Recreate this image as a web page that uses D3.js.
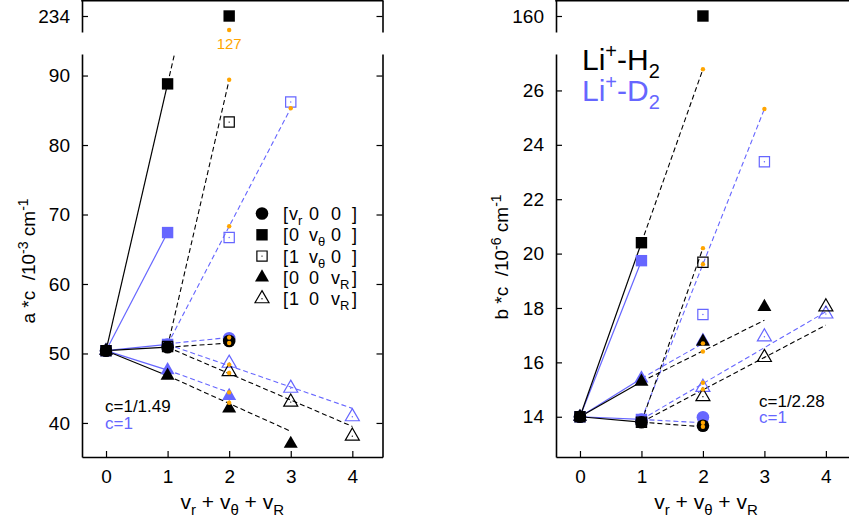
<!DOCTYPE html>
<html>
<head>
<meta charset="utf-8">
<script src="https://cdn.jsdelivr.net/npm/d3@7/dist/d3.min.js"></script>
<style>
  body { margin: 0; background: #fff; }
  svg { display: block; font-family: "Liberation Sans", Arial, sans-serif; }
</style>
</head>
<body>
<svg id="chart" width="849" height="524"></svg>
<script>
// ---- data -------------------------------------------------------------
const quanta = [0, 1, 2, 3, 4];
const aTicks = [40, 50, 60, 70, 80, 90];
const aTopTicks = [234];
const bTicks = [14, 16, 18, 20, 22, 24, 26];
const bTopTicks = [160];

// first quantum number of each progression
const seriesStart = { vr: 0, vt: 0, onevt: 1, vR: 0, onevR: 2 };

// a*c (10^-3 cm^-1) — Li+-H2 (c = 1/1.49)
const aH2_vr    = [50.4, 50.9, 51.8];
const aH2_vt    = [50.4, 88.8, 234];
const aH2_onevt = [51.0, 83.3];
const aH2_vR    = [50.4, 46.8, 42.1, 37.0];
const aH2_onevR = [47.4, 43.0, 38.1];
// a*c — Li+-D2 (c = 1)
const aD2_vr    = [50.4, 51.3, 52.2];
const aD2_vt    = [50.4, 67.4];
const aD2_onevt = [51.3, 66.7, 86.2];
const aD2_vR    = [50.4, 47.6, 43.9];
const aD2_onevR = [48.6, 45.0, 40.9];
// linear predictions: [n0, v0, n1, v1] and predicted points [n, v]
const aH2_extrap = [[1, 88.8, 2, 127], [1, 51.0, 2, 89.4], [1, 50.9, 2, 51.5], [1, 46.8, 3, 38.8], [1, 50.9, 4, 39.5]];
const aH2_pred   = [[2, 127], [2, 89.4], [2, 51.5], [2, 42.9], [2, 47.2]];
const aD2_extrap = [[1, 51.3, 3, 85.3], [1, 51.4, 2, 52.3], [1, 47.6, 2, 44.4], [1, 51.3, 4, 42.1]];
const aD2_pred   = [[2, 68.3], [3, 85.3], [2, 52.3], [2, 44.4], [2, 48.4]];

// b*c (10^-6 cm^-1) — Li+-H2 (c = 1/2.28)
const bH2_vr    = [14.0, 13.8, 13.67];
const bH2_vt    = [14.0, 20.4, 160];
const bH2_onevt = [13.8, 19.68];
const bH2_vR    = [14.0, 15.29, 16.76, 18.04];
const bH2_onevR = [14.74, 16.18, 18.04];
// b*c — Li+-D2 (c = 1)
const bD2_vr    = [14.0, 13.9, 13.98];
const bD2_vt    = [14.0, 19.74];
const bD2_onevt = [13.9, 17.76, 23.38];
const bD2_vR    = [14.0, 15.41, 16.8];
const bD2_onevR = [15.08, 16.94, 17.78];
const bH2_extrap = [[1, 20.4, 2, 26.78], [1, 13.8, 2, 20.2], [1, 13.8, 2, 13.63], [1, 15.29, 3, 17.55], [1, 13.8, 4, 17.37]];
const bH2_pred   = [[2, 26.78], [2, 20.2], [2, 13.63], [2, 16.4], [2, 15.0]];
const bD2_extrap = [[1, 13.9, 3, 25.32], [1, 13.9, 2, 13.78], [1, 15.41, 2, 16.7], [1, 13.9, 4, 17.86]];
const bD2_pred   = [[2, 19.61], [3, 25.32], [2, 13.78], [2, 16.7], [2, 15.25]];

// ---- layout ------------------------------------------------------------
const BLACK = "#000", BLUE = "#6666ff", ORANGE = "#ffa500";
const MAIN_TOP = 54, MAIN_BOT = 457, TOP_TOP = 0, TOP_BOT = 32;
const xDomain = [-0.39, 4.49];
const FONT = 19;
const NB = "\u00a0";
const svg = d3.select("#chart");

const symbolFor = {
  vr: d3.symbolCircle, vt: d3.symbolSquare, onevt: d3.symbolSquare,
  vR: d3.symbolTriangle, onevR: d3.symbolTriangle
};
const sizeFor = { vr: 125, vt: 130, onevt: 105, vR: 85, onevR: 85 };
const openFor = { vr: false, vt: false, onevt: true, vR: false, onevR: true };

function drawMarker(g, key, cx, cy, color) {
  const p = d3.symbol().type(symbolFor[key]).size(sizeFor[key])();
  const m = g.append("path").attr("d", p)
    .attr("transform", `translate(${cx},${cy})`);
  if (openFor[key]) {
    m.attr("fill", "none").attr("stroke", color).attr("stroke-width", 1.2);
    g.append("circle").attr("cx", cx).attr("cy", cy).attr("r", 0.7).attr("fill", color);
  } else {
    m.attr("fill", color);
  }
}

function styleAxis(sel) {
  sel.attr("font-size", FONT).attr("font-family", null);
  sel.selectAll("path.domain").attr("stroke-width", 1.6);
  sel.selectAll(".tick line").attr("stroke-width", 1.2);
  sel.selectAll(".tick text").attr("fill", BLACK);
}

function drawPanel(p) {
  const x = d3.scaleLinear().domain(xDomain).range([p.left, p.right]);
  const y = d3.scaleLinear().domain(p.mainDomain).range([MAIN_BOT, MAIN_TOP]);
  const yt = d3.scaleLinear().domain(p.topDomain).range([TOP_BOT, TOP_TOP]);
  const place = v => v > p.mainDomain[1] ? yt(v) : y(v);

  const g = svg.append("g");
  svg.append("clipPath").attr("id", p.id + "-clip")
    .append("rect").attr("x", p.left).attr("y", MAIN_TOP)
    .attr("width", p.right - p.left).attr("height", MAIN_BOT - MAIN_TOP);

  // axes — main part
  g.append("g").attr("transform", `translate(${p.left},0)`)
    .call(d3.axisLeft(y).tickValues(p.ticks).tickSize(-6).tickSizeOuter(0).tickPadding(12))
    .call(styleAxis);
  g.append("g").attr("transform", `translate(${p.right},0)`)
    .call(d3.axisRight(y).tickValues(p.ticks).tickSize(-6).tickSizeOuter(0).tickFormat(""))
    .call(styleAxis);
  g.append("g").attr("transform", `translate(0,${MAIN_BOT})`)
    .call(d3.axisBottom(x).tickValues(quanta).tickFormat(d3.format("d"))
      .tickSize(-6).tickSizeOuter(0).tickPadding(13))
    .call(styleAxis);
  // axes — upper (broken) part
  g.append("g").attr("transform", `translate(${p.left},0)`)
    .call(d3.axisLeft(yt).tickValues(p.topTicks).tickSize(-6).tickSizeOuter(0).tickPadding(12))
    .call(styleAxis);
  g.append("g").attr("transform", `translate(${p.right},0)`)
    .call(d3.axisRight(yt).tickValues(p.topTicks).tickSize(-6).tickSizeOuter(0).tickFormat(""))
    .call(styleAxis);
  g.append("line").attr("x1", p.left - 0.8).attr("x2", p.right + 0.8)
    .attr("y1", 0.8).attr("y2", 0.8).attr("stroke", BLACK).attr("stroke-width", 1.6);

  const plot = g.append("g").attr("clip-path", `url(#${p.id}-clip)`);
  const groups = [p.D2, p.H2];  // blue drawn underneath black

  // solid segments from the ground state to the first level
  groups.forEach(s => {
    ["vr", "vt", "vR"].forEach(k => {
      const v = s.series[k];
      plot.append("line")
        .attr("x1", x(0)).attr("y1", y(v[0])).attr("x2", x(1)).attr("y2", y(v[1]))
        .attr("stroke", s.color).attr("stroke-width", 1.2);
    });
  });
  // dashed linear predictions
  groups.forEach(s => {
    s.extrap.forEach(([n0, v0, n1, v1]) => {
      plot.append("line")
        .attr("x1", x(n0)).attr("y1", y(v0)).attr("x2", x(n1)).attr("y2", y(v1))
        .attr("stroke", s.color).attr("stroke-width", 1.1).attr("stroke-dasharray", "5,3");
    });
  });
  // measured levels
  const marks = g.append("g");
  groups.forEach(s => {
    ["vr", "vR", "onevR", "onevt", "vt"].forEach(k => {
      s.series[k].forEach((v, i) => {
        drawMarker(marks, k, x(seriesStart[k] + i), place(v), s.color);
      });
    });
  });
  // predicted points
  groups.forEach(s => {
    s.pred.forEach(([n, v]) => {
      marks.append("circle").attr("cx", x(n)).attr("cy", place(v)).attr("r", 2.2).attr("fill", ORANGE);
      if (v > p.mainDomain[1]) {
        marks.append("text").attr("x", x(n)).attr("y", place(v) + 19)
          .attr("text-anchor", "middle").attr("font-size", 15).attr("fill", ORANGE)
          .text(d3.format("d")(v));
      }
    });
  });

  // x-axis title: vr + vθ + vR
  const xt = g.append("text").attr("x", (p.left + p.right) / 2).attr("y", 509)
    .attr("text-anchor", "middle").attr("font-size", 21);
  [["v", "r"], [NB + "+" + NB + "v", "θ"], [NB + "+" + NB + "v", "R"]].forEach(([b, s], i) => {
    xt.append("tspan").attr("dy", i === 0 ? 0 : -6).text(b);
    xt.append("tspan").attr("font-size", 15).attr("dy", 6).text(s);
  });

  // y-axis title
  const yl = g.append("text").attr("transform", `translate(${p.ylabelX},${p.ylabelY}) rotate(-90)`)
    .attr("text-anchor", "middle").attr("font-size", 19);
  yl.append("tspan").text(p.ylabelVar + NB + "*c" + NB + NB + "/10");
  yl.append("tspan").attr("font-size", 14).attr("dy", -7).text(p.ylabelExp);
  yl.append("tspan").attr("dy", 7).text(NB + "cm");
  yl.append("tspan").attr("font-size", 14).attr("dy", -7).text("-1");

  // scale-factor notes
  p.notes.forEach(nt => {
    g.append("text").attr("x", nt.x).attr("y", nt.y).attr("font-size", 17)
      .attr("fill", nt.color).text(nt.text);
  });
  return g;
}

drawPanel({
  id: "pa", left: 82, right: 382.5,
  mainDomain: [35.1, 93.1], topDomain: [112, 356],
  ticks: aTicks, topTicks: aTopTicks,
  ylabelVar: "a", ylabelExp: "-3", ylabelX: 35, ylabelY: 261,
  H2: { color: BLACK, series: { vr: aH2_vr, vt: aH2_vt, onevt: aH2_onevt, vR: aH2_vR, onevR: aH2_onevR }, extrap: aH2_extrap, pred: aH2_pred },
  D2: { color: BLUE, series: { vr: aD2_vr, vt: aD2_vt, onevt: aD2_onevt, vR: aD2_vR, onevR: aD2_onevR }, extrap: aD2_extrap, pred: aD2_pred },
  notes: [{ x: 105, y: 412, text: "c=1/1.49", color: BLACK }, { x: 105, y: 429, text: "c=1", color: BLUE }]
});

drawPanel({
  id: "pb", left: 556, right: 856,
  mainDomain: [12.52, 27.34], topDomain: [140, 180],
  ticks: bTicks, topTicks: bTopTicks,
  ylabelVar: "b", ylabelExp: "-6", ylabelX: 508, ylabelY: 257,
  H2: { color: BLACK, series: { vr: bH2_vr, vt: bH2_vt, onevt: bH2_onevt, vR: bH2_vR, onevR: bH2_onevR }, extrap: bH2_extrap, pred: bH2_pred },
  D2: { color: BLUE, series: { vr: bD2_vr, vt: bD2_vt, onevt: bD2_onevt, vR: bD2_vR, onevR: bD2_onevR }, extrap: bD2_extrap, pred: bD2_pred },
  notes: [{ x: 759, y: 407, text: "c=1/2.28", color: BLACK }, { x: 759, y: 423, text: "c=1", color: BLUE }]
});

// legend (left panel)
const legendKeys = ["vr", "vt", "onevt", "vR", "onevR"];
const legendCols = [
  [["v", "r"], ["0"], ["0"]],
  [["0"], ["v", "θ"], ["0"]],
  [["1"], ["v", "θ"], ["0"]],
  [["0"], ["0"], ["v", "R"]],
  [["1"], ["0"], ["v", "R"]]
];
const colX = [289, 309, 331];
const lg = svg.append("g");
legendKeys.forEach((k, i) => {
  const cy = 213.5 + i * 21.3;
  drawMarker(lg, k, 262, cy, BLACK);
  lg.append("text").attr("x", 283).attr("y", cy + 6.5).attr("font-size", 18).text("[");
  legendCols[i].forEach((tok, j) => {
    const t = lg.append("text").attr("x", colX[j]).attr("y", cy + 6.5).attr("font-size", 18);
    t.append("tspan").text(tok[0]);
    if (tok[1]) t.append("tspan").attr("font-size", 13).attr("dy", 5).text(tok[1]);
  });
  lg.append("text").attr("x", 352).attr("y", cy + 6.5).attr("font-size", 18).text("]");
});

// molecule key (right panel)
const mk = svg.append("g").attr("font-size", 30);
[["H", BLACK, 70], ["D", BLUE, 101]].forEach(([atom, color, yb]) => {
  const t = mk.append("text").attr("x", 582).attr("y", yb).attr("fill", color);
  t.append("tspan").text("Li");
  t.append("tspan").attr("font-size", 20).attr("dy", -12).text("+");
  t.append("tspan").attr("dy", 12).text("-" + atom);
  t.append("tspan").attr("font-size", 20).attr("dy", 8).text("2");
});
</script>
</body>
</html>
